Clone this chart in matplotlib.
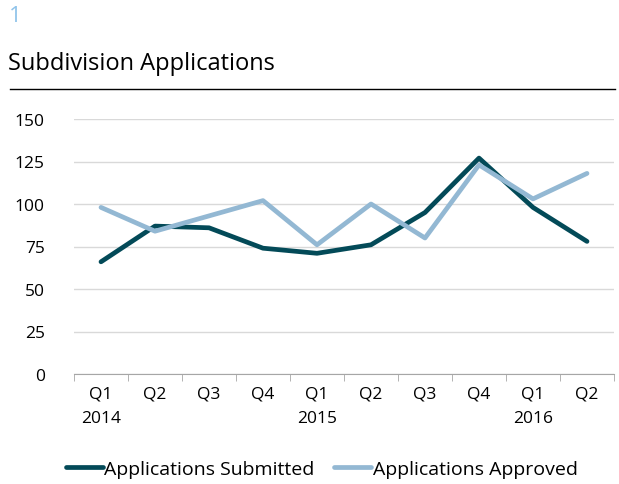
import matplotlib.pyplot as plt
import numpy as np

plt.rcParams['font.family'] = ['Open Sans', 'DejaVu Sans']

# Data
quarters = ['Q1', 'Q2', 'Q3', 'Q4', 'Q1', 'Q2', 'Q3', 'Q4', 'Q1', 'Q2']
years = ['2014', '', '', '', '2015', '', '', '', '2016', '']
submitted = [66, 87, 86, 74, 71, 76, 95, 127, 98, 78]
approved = [98, 84, 93, 102, 76, 100, 80, 123, 103, 118]

dark = '#034a58'
light = '#93b8d3'

fig = plt.figure(figsize=(6.19, 4.85), dpi=100)
ax = fig.add_axes([74 / 619, 1 - 375 / 485, 540 / 619, 255 / 485])

x = np.arange(len(quarters))
ax.plot(x, submitted, color=dark, lw=3.4, label='Applications Submitted', solid_capstyle='round')
ax.plot(x, approved, color=light, lw=3.4, label='Applications Approved', solid_capstyle='round')

ax.set_xlim(-0.5, len(quarters) - 0.5)
ax.set_ylim(0, 150)
ax.set_yticks([0, 25, 50, 75, 100, 125, 150])
ax.yaxis.grid(True, color='#d9d9d9', lw=1)
ax.set_axisbelow(True)
ax.tick_params(axis='y', length=0, labelsize=12.5, pad=21)

labels = [q + '\n' + y for q, y in zip(quarters, years)]
ax.set_xticks(x)
ax.set_xticklabels(labels, fontsize=12.5, linespacing=1.7)
ax.set_xticks(np.arange(-0.5, len(quarters)), minor=True)
ax.tick_params(axis='x', which='major', length=0, pad=8)
ax.tick_params(axis='x', which='minor', length=5, color='#a6a6a6', direction='out')

for s in ['top', 'right', 'left']:
    ax.spines[s].set_visible(False)
ax.spines['bottom'].set_color('#a6a6a6')

fig.text(9 / 619, 1 - 16 / 485, '1', color='#8fc3ea', fontsize=16, va='center')
fig.text(8 / 619, 1 - 64 / 485, 'Subdivision Applications', fontsize=17, va='center')
fig.add_artist(plt.Line2D([10 / 619, 615 / 619], [1 - 90 / 485, 1 - 90 / 485], color='black', lw=1))

fig.legend(loc='center', bbox_to_anchor=(0.52, 1 - 470 / 485), ncol=2, frameon=False,
           fontsize=14, handlelength=1.9, handletextpad=0.1, columnspacing=1.0)

fig.savefig('out.png', dpi=100)
